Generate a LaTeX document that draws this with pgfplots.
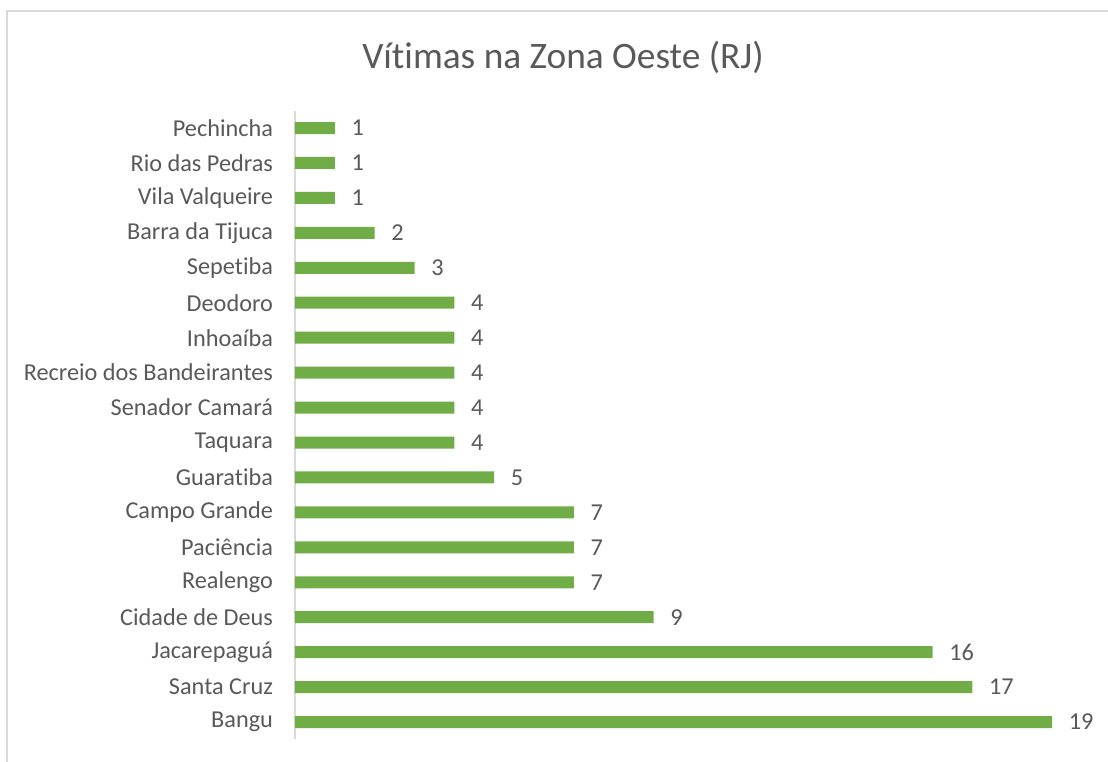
\documentclass[border=0pt]{standalone}
\usepackage{pgfplots}
\pgfplotsset{compat=1.18}
\usepackage{fontspec}
\setmainfont{Carlito}[Ligatures=NoCommon]
\definecolor{bargreen}{HTML}{70AD47}
\definecolor{txtgray}{HTML}{595959}
\definecolor{linegray}{HTML}{D9D9D9}
\begin{document}
\begin{tikzpicture}
\useasboundingbox (0pt,0pt) rectangle (831pt,-571.5pt);
\fill[white] (0pt,0pt) rectangle (831pt,-571.5pt);
\draw[linegray,line width=0.9pt] (5.25pt,-571.5pt) -- (5.25pt,-8.25pt) -- (831pt,-8.25pt);
\node[txtgray,font=\fontsize{28}{32}\selectfont] at (422.25pt,-42.75pt) {Vítimas na Zona Oeste (RJ)};
\begin{axis}[
  at={(221.25pt,-554.625pt)}, anchor=south west,
  scale only axis, width=597.75pt, height=471.7pt,
  xbar, bar width=9pt,
  xmin=0, xmax=20, ymin=-0.5, ymax=17.5,
  axis x line=none,
  axis y line*=left,
  y axis line style={linegray, line width=0.9pt, -},
  ytick={0,...,17}, major tick length=0pt,
  yticklabels={Bangu,Santa Cruz,Jacarepaguá,Cidade de Deus,Realengo,Paciência,Campo Grande,Guaratiba,Taquara,Senador Camará,Recreio dos Bandeirantes,Inhoaíba,Deodoro,Sepetiba,Barra da Tijuca,Vila Valqueire,Rio das Pedras,Pechincha},
  yticklabel style={font=\fontsize{18.2}{20}\selectfont, text=txtgray, xshift=-13pt},
  /pgf/number format/assume math mode=true,
  nodes near coords,
  nodes near coords align={horizontal},
  every node near coord/.append style={font=\fontsize{18.2}{20}\selectfont, text=txtgray, xshift=9pt},
  clip=false,
]
\addplot[fill=bargreen, draw=none] coordinates {
(19,0) (17,1) (16,2) (9,3) (7,4) (7,5) (7,6) (5,7) (4,8) (4,9) (4,10) (4,11) (4,12) (3,13) (2,14) (1,15) (1,16) (1,17)};
\end{axis}
\end{tikzpicture}
\end{document}
